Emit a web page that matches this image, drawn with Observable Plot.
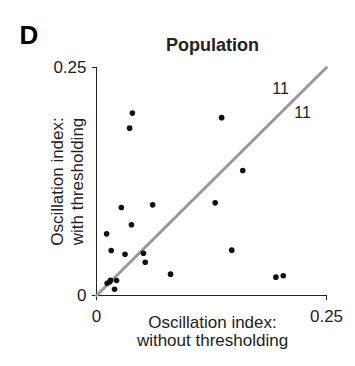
<!DOCTYPE html>
<html>
<head>
<meta charset="utf-8">
<script src="https://cdn.jsdelivr.net/npm/d3@7"></script>
<script src="https://cdn.jsdelivr.net/npm/@observablehq/plot@0.6"></script>
<style>
  html, body { margin: 0; padding: 0; background: #fff; }
  #chart svg { display: block; }
</style>
</head>
<body>
<div id="chart"></div>
<script>
// Data
const withoutThresholding = [0.039, 0.036, 0.136, 0.159, 0.129, 0.061, 0.027, 0.038, 0.011, 0.016, 0.031, 0.051, 0.053, 0.147, 0.0805, 0.195, 0.203, 0.0116, 0.0152, 0.0145, 0.0218, 0.0196];
const withThresholding    = [0.200, 0.1835, 0.195, 0.137, 0.1016, 0.0994, 0.0965, 0.0775, 0.0676, 0.0493, 0.0453, 0.0464, 0.0365, 0.0497, 0.0234, 0.0201, 0.0216, 0.0135, 0.0168, 0.015, 0.0164, 0.0069];
const identityLine = [0, 0.25];
const tickValues = [0, 0.25];
const tickLabels = ["0", "0.25"];
const annotationX = [0.200, 0.224];
const annotationY = [0.227, 0.2007];
const annotationText = ["11", "11"];
const panelLetter = "D";
const chartTitle = "Population";
const xTitle = "Oscillation index:\nwithout thresholding";
const yTitle = "Oscillation index:\nwith thresholding";

const points = withoutThresholding.map((x, i) => ({x, y: withThresholding[i]}));
const diag = identityLine.map(v => ({x: v, y: v}));
const notes = annotationText.map((t, i) => ({x: annotationX[i], y: annotationY[i], t}));
const fmt = d => tickLabels[tickValues.indexOf(d)];

const ink = "#222";
const fs = 17;

const chart = Plot.plot({
  width: 355,
  height: 366,
  marginLeft: 96,
  marginRight: 29,
  marginTop: 67,
  marginBottom: 71,
  style: {fontFamily: "'Liberation Sans', Arial, Helvetica, sans-serif", color: ink, background: "#fff"},
  x: {domain: [0, 0.25]},
  y: {domain: [0, 0.25]},
  marks: [
    Plot.axisX({ticks: tickValues, tickFormat: fmt, tickSize: 5, tickPadding: 9, fontSize: fs, label: null, stroke: ink}),
    Plot.axisY({ticks: tickValues, tickFormat: fmt, tickSize: 4, tickPadding: 6, fontSize: fs, label: null, stroke: ink}),
    Plot.ruleY([0], {stroke: ink, strokeWidth: 1}),
    Plot.ruleX([0], {stroke: ink, strokeWidth: 1}),
    Plot.line(diag, {x: "x", y: "y", stroke: "#999", strokeWidth: 3}),
    Plot.dot(points, {x: "x", y: "y", r: 2.8, fill: "#111", stroke: "none"}),
    Plot.text(notes, {x: "x", y: "y", text: "t", fontSize: 16, fill: "#222"}),
    Plot.text([chartTitle], {frameAnchor: "top", lineAnchor: "bottom", dy: -17, dx: 1, fontSize: 18, fontWeight: "bold", fill: ink}),
    Plot.text([panelLetter], {frameAnchor: "top-left", textAnchor: "start", lineAnchor: "bottom", dy: -24, dx: -77, fontSize: 26, fontWeight: "bold", fill: "#000"}),
    Plot.text([xTitle], {frameAnchor: "bottom", lineAnchor: "top", dy: 19, dx: 1, lineHeight: 1.1, fontSize: fs, fill: ink}),
    Plot.text([yTitle], {frameAnchor: "left", textAnchor: "middle", lineAnchor: "middle", rotate: -90, dx: -30, lineHeight: 1.15, fontSize: fs, fill: ink})
  ]
});
document.getElementById("chart").appendChild(chart);
</script>
</body>
</html>
